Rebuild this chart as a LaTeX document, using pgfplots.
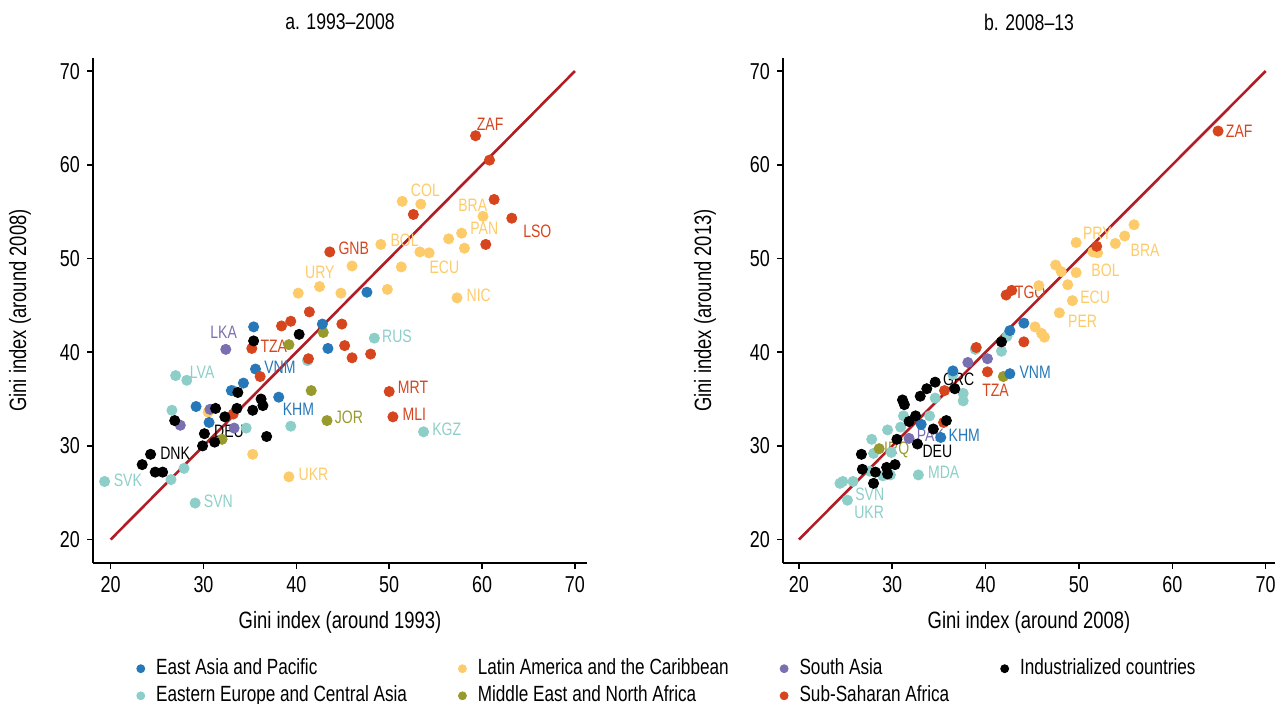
\documentclass[border=0pt]{standalone}
\usepackage{pgfplots}
\pgfplotsset{compat=1.18}
\usepackage{pgfplotstable}
\usepackage{fontspec}
\setmainfont{Liberation Sans}[FakeStretch=0.78]

\definecolor{cEAP}{RGB}{38,120,184}
\definecolor{cECA}{RGB}{141,207,200}
\definecolor{cLAC}{RGB}{253,203,106}
\definecolor{cMNA}{RGB}{152,154,46}
\definecolor{cSAS}{RGB}{120,112,176}
\definecolor{cSSA}{RGB}{214,69,30}
\definecolor{cIND}{RGB}{0,0,0}
\definecolor{cLine}{RGB}{178,28,36}

% ---------- Panel a: 1993 -> 2008 ----------
\pgfplotstableread{
x y
35.4 42.7
35.6 38.2
38.1 35.2
33.0 35.9
34.3 36.7
29.2 34.2
30.6 32.5
42.8 43.0
43.4 40.4
47.6 46.4
}\aEAP
\pgfplotstableread{
x y
19.35 26.2
26.5 26.4
27.9 27.6
29.1 23.9
34.6 31.9
39.4 32.1
26.6 33.8
27.0 37.5
28.2 37.0
33.2 35.9
41.2 39.1
48.4 41.5
53.7 31.5
}\aECA
\pgfplotstableread{
x y
51.4 56.1
53.4 55.8
60.1 54.5
57.8 52.7
56.4 52.1
58.1 51.1
53.3 50.7
54.3 50.6
51.3 49.1
49.1 51.5
46.0 49.2
42.5 47.0
40.2 46.3
44.8 46.3
49.8 46.7
57.3 45.8
35.3 29.1
39.2 26.7
30.5 33.6
}\aLAC
\pgfplotstableread{
x y
42.9 42.1
39.2 40.8
41.6 35.9
43.3 32.7
32.0 30.7
}\aMNA
\pgfplotstableread{
x y
32.4 40.3
27.5 32.2
30.7 33.9
33.3 31.9
}\aSAS
\pgfplotstableread{
x y
59.3 63.1
60.8 60.5
61.3 56.3
63.2 54.3
60.4 51.5
52.6 54.7
43.6 50.7
41.4 44.3
38.4 42.8
39.4 43.3
44.9 43.0
45.2 40.7
46.0 39.4
48.0 39.8
41.3 39.3
35.2 40.4
36.1 37.4
33.2 33.4
50.0 35.8
50.4 33.1
}\aSSA
\pgfplotstableread{
x y
23.4 28.0
24.8 27.2
25.6 27.2
24.3 29.1
29.9 30.0
31.2 30.4
30.1 31.3
36.8 31.0
26.9 32.7
31.3 34.0
32.3 33.1
33.6 34.0
33.7 35.7
35.3 33.8
36.2 35.0
36.4 34.3
35.4 41.2
40.3 41.9
}\aIND

% ---------- Panel b: 2008 -> 2013 ----------
\pgfplotstableread{
x y
44.1 43.1
42.6 42.3
42.6 37.7
35.2 30.9
33.1 32.3
36.5 38.0
}\bEAP
\pgfplotstableread{
x y
24.4 26.0
24.7 26.2
25.8 26.2
25.2 24.2
29.0 26.8
29.8 26.9
27.6 27.3
28.0 29.2
29.9 29.3
27.8 30.7
29.5 31.7
30.9 32.0
31.2 33.2
34.0 33.2
34.6 35.1
37.6 35.6
37.6 34.8
36.5 37.6
38.9 40.3
41.7 40.1
42.3 41.7
32.8 26.9
}\bECA
\pgfplotstableread{
x y
45.3 42.7
46.0 42.0
46.3 41.6
45.7 47.1
47.5 49.3
48.1 48.6
49.7 48.5
48.8 47.2
49.3 45.5
47.9 44.2
49.7 51.7
51.5 50.7
52.0 50.6
53.9 51.6
54.9 52.4
55.9 53.6
}\bLAC
\pgfplotstableread{
x y
28.6 29.7
41.9 37.4
}\bMNA
\pgfplotstableread{
x y
31.8 30.8
38.1 38.9
40.2 39.3
}\bSAS
\pgfplotstableread{
x y
64.9 63.6
51.9 51.3
42.2 46.1
42.8 46.6
39.0 40.5
44.1 41.1
40.2 37.9
35.6 35.9
35.5 32.5
}\bSSA
\pgfplotstableread{
x y
28.0 26.0
26.8 27.5
28.2 27.2
29.4 27.7
29.5 27.0
30.3 28.0
26.7 29.1
30.5 30.7
31.8 32.6
32.5 33.2
34.4 31.8
32.7 30.2
35.8 32.7
31.1 34.9
31.3 34.4
33.0 35.3
33.7 36.1
34.6 36.8
36.7 36.1
41.7 41.1
}\bIND

\pgfplotsset{
  gini/.style={
    scale only axis, anchor=south west,
    ymin=17.5, ymax=71.4,
    axis x line=bottom, axis y line=left,
    axis line style={-, line width=0.8pt, black},
    tick align=outside, major tick length=3pt,
    tick style={line width=0.8pt, black},
    xtick={20,30,...,70}, ytick={20,30,...,70},
    tick label style={font=\fontsize{11.5}{12}\selectfont},
    /pgf/number format/assume math mode=true,
    label style={font=\fontsize{11.8}{13}\selectfont},
    every axis title/.style={at={(axis description cs:0.5,1.0713)}, anchor=center,
      font=\fontsize{11.3}{12}\selectfont},
    clip=false,
  },
  dot/.style={only marks, mark=*, mark size=2.55pt, color=#1, forget plot},
}
\tikzset{lab/.style={anchor=west, inner sep=0pt, text=#1, font=\fontsize{9}{10}\selectfont}}

\begin{document}
\begin{tikzpicture}
\path[use as bounding box] (0,0) rectangle (640pt,352pt);

% ================= Panel a =================
\begin{axis}[gini,
  at={(46.5pt,70.5pt)}, width=247pt, height=252.5pt,
  xmin=18.1, xmax=71.3,
  xlabel={Gini index (around 1993)},
  ylabel={Gini index (around 2008)},
  xlabel style={at={(axis description cs:0.5,-0.1168)}, anchor=center},
  ylabel style={at={(axis description cs:-0.1478,0.5)}, anchor=center},
  title={a. 1993--2008},
  legend columns=4,
  legend cell align=left,
  legend style={at={(axis description cs:0.087,-0.184)}, anchor=north west,
    draw=none, fill=none, inner sep=0pt,
    font=\fontsize{11}{13}\selectfont,
    /tikz/every odd column/.append style={column sep=4.5pt},
    /tikz/every even column/.append style={column sep=24.5pt},
    nodes={inner sep=1pt, text height=8pt, text depth=2.3pt},
    row sep=1.2pt},
]
\addlegendimage{legend image code/.code={\fill[cEAP] (0pt,0pt) circle (2pt); \path (0pt,6pt);}}
\addlegendentry{East Asia and Pacific}
\addlegendimage{legend image code/.code={\fill[cLAC] (0pt,0pt) circle (2pt); \path (0pt,6pt);}}
\addlegendentry{Latin America and the Caribbean}
\addlegendimage{legend image code/.code={\fill[cSAS] (0pt,0pt) circle (2pt); \path (0pt,6pt);}}
\addlegendentry{South Asia}
\addlegendimage{legend image code/.code={\fill[cIND] (0pt,0pt) circle (2pt); \path (0pt,6pt);}}
\addlegendentry{Industrialized countries}
\addlegendimage{legend image code/.code={\fill[cECA] (0pt,0pt) circle (2pt); \path (0pt,6pt);}}
\addlegendentry{Eastern Europe and Central Asia}
\addlegendimage{legend image code/.code={\fill[cMNA] (0pt,0pt) circle (2pt); \path (0pt,6pt);}}
\addlegendentry{Middle East and North Africa}
\addlegendimage{legend image code/.code={\fill[cSSA] (0pt,0pt) circle (2pt); \path (0pt,6pt);}}
\addlegendentry{Sub-Saharan Africa}

\addplot[dot=cECA] table {\aECA};
\addplot[dot=cLAC] table {\aLAC};
\addplot[dot=cMNA] table {\aMNA};
\addplot[dot=cSAS] table {\aSAS};
\addplot[dot=cEAP] table {\aEAP};
\addplot[dot=cSSA] table {\aSSA};
\addplot[dot=cIND] table {\aIND};
\addplot[color=cLine, line width=1.3pt, no marks, forget plot] coordinates {(20,20) (70,70)};

\node[lab=cSSA] at (axis cs:59.4,64.3) {ZAF};
\node[lab=cLAC] at (axis cs:52.3,57.3) {COL};
\node[lab=cLAC] at (axis cs:57.4,55.7) {BRA};
\node[lab=cSSA] at (axis cs:64.4,52.9) {LSO};
\node[lab=cLAC] at (axis cs:58.7,53.2) {PAN};
\node[lab=cLAC] at (axis cs:50.1,51.9) {BOL};
\node[lab=cLAC] at (axis cs:54.3,49.1) {ECU};
\node[lab=cSSA] at (axis cs:44.5,51.1) {GNB};
\node[lab=cLAC] at (axis cs:40.9,48.5) {URY};
\node[lab=cLAC] at (axis cs:58.3,46.1) {NIC};
\node[lab=cECA] at (axis cs:49.2,41.7) {RUS};
\node[lab=cSSA] at (axis cs:50.9,36.2) {MRT};
\node[lab=cSSA] at (axis cs:51.4,33.4) {MLI};
\node[lab=cECA] at (axis cs:54.6,31.8) {KGZ};
\node[lab=cMNA] at (axis cs:44.1,33.0) {JOR};
\node[lab=cEAP] at (axis cs:38.5,33.9) {KHM};
\node[lab=cLAC] at (axis cs:40.2,27.0) {UKR};
\node[lab=cECA] at (axis cs:30.0,24.1) {SVN};
\node[lab=cECA] at (axis cs:20.3,26.3) {SVK};
\node[lab=cIND] at (axis cs:25.3,29.2) {DNK};
\node[lab=cIND] at (axis cs:31.1,31.5) {DEU};
\node[lab=cECA] at (axis cs:28.5,37.9) {LVA};
\node[lab=cSAS] at (axis cs:30.7,42.1) {LKA};
\node[lab=cSSA] at (axis cs:36.1,40.6) {TZA};
\node[lab=cEAP] at (axis cs:36.5,38.4) {VNM};
\end{axis}

% ================= Panel b =================
\begin{axis}[gini,
  at={(391.5pt,70.5pt)}, width=246pt, height=252.5pt,
  xmin=18.3, xmax=71.0,
  xlabel={Gini index (around 2008)},
  ylabel={Gini index (around 2013)},
  xlabel style={at={(axis description cs:0.5,-0.1168)}, anchor=center},
  ylabel style={at={(axis description cs:-0.1585,0.5)}, anchor=center},
  title={b. 2008--13},
]
\addplot[dot=cECA] table {\bECA};
\addplot[dot=cLAC] table {\bLAC};
\addplot[dot=cMNA] table {\bMNA};
\addplot[dot=cSAS] table {\bSAS};
\addplot[dot=cEAP] table {\bEAP};
\addplot[dot=cSSA] table {\bSSA};
\addplot[dot=cIND] table {\bIND};
\addplot[color=cLine, line width=1.3pt, no marks, forget plot] coordinates {(20,20) (70,70)};

\node[lab=cSSA] at (axis cs:65.7,63.6) {ZAF};
\node[lab=cLAC] at (axis cs:50.4,52.7) {PRY};
\node[lab=cLAC] at (axis cs:55.5,50.9) {BRA};
\node[lab=cLAC] at (axis cs:51.3,48.7) {BOL};
\node[lab=cLAC] at (axis cs:50.1,45.9) {ECU};
\node[lab=cLAC] at (axis cs:48.8,43.3) {PER};
\node[lab=cSSA] at (axis cs:43.1,46.4) {TGO};
\node[lab=cEAP] at (axis cs:43.6,37.9) {VNM};
\node[lab=cSSA] at (axis cs:39.6,35.9) {TZA};
\node[lab=cIND] at (axis cs:35.4,37.1) {GRC};
\node[lab=cSAS] at (axis cs:32.6,31.1) {PAK};
\node[lab=cEAP] at (axis cs:36.0,31.1) {KHM};
\node[lab=cMNA] at (axis cs:29.1,29.6) {IRQ};
\node[lab=cIND] at (axis cs:33.2,29.4) {DEU};
\node[lab=cECA] at (axis cs:33.8,27.2) {MDA};
\node[lab=cECA] at (axis cs:26.0,24.8) {SVN};
\node[lab=cECA] at (axis cs:25.9,22.9) {UKR};
\end{axis}
\end{tikzpicture}
\end{document}
